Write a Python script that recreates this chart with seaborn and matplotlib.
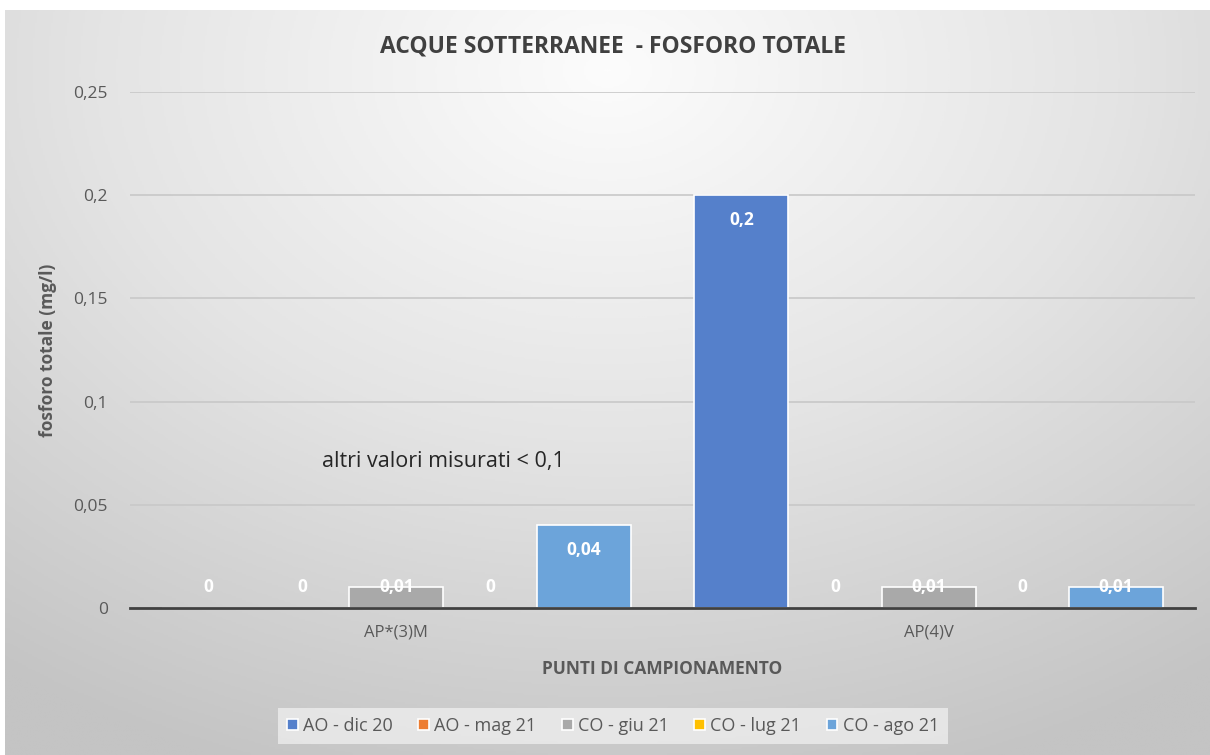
import numpy as np
import pandas as pd
import matplotlib
matplotlib.use('Agg')
import matplotlib.pyplot as plt
from matplotlib.colors import LinearSegmentedColormap
import seaborn as sns

# Dati
PUNTI = ['AP*(3)M', 'AP(4)V']
CAMPAGNE = ['AO - dic 20', 'AO - mag 21', 'CO - giu 21', 'CO - lug 21', 'CO - ago 21']
VAL_AP3M = [0, 0, 0.01, 0, 0.04]
VAL_AP4V = [0.2, 0, 0.01, 0, 0.01]
Y_TICKS = [0, 0.05, 0.1, 0.15, 0.2, 0.25]

COLORI = ['#5580CB', '#ED7D31', '#A9A9A9', '#FFC000', '#6CA4DA']
TXT = '#595959'
FONT = ['Open Sans', 'DejaVu Sans']


def virgola(v):
    s = f'{v:g}'
    return s.replace('.', ',')


rows = []
for punto, vals in zip(PUNTI, [VAL_AP3M, VAL_AP4V]):
    for camp, v in zip(CAMPAGNE, vals):
        rows.append({'punto': punto, 'campagna': camp, 'valore': v})
df = pd.DataFrame(rows)

sns.set_theme(style='white')
plt.rcParams['font.family'] = FONT

fig = plt.figure(figsize=(12.1, 7.55), dpi=100)
fig.patch.set_facecolor('white')

# --- sfondo con gradiente radiale (stile Excel) ---
bg = fig.add_axes([5 / 1210, 0, 1 - 5 / 1210, 1 - 10 / 755], zorder=-10)
yy, xx = np.mgrid[0:1:400j, 0:1:600j]
dist = np.sqrt(((xx - 0.5) * 1.0) ** 2 + ((yy - 0.08) * 0.85) ** 2)
cmap_bg = LinearSegmentedColormap.from_list('bg', ['#fcfcfc', '#e4e4e4', '#c4c4c4'])
bg.imshow(dist, cmap=cmap_bg, vmin=0, vmax=0.85, aspect='auto', extent=[0, 1, 1, 0])
bg.set_axis_off()

ax = fig.add_axes([130 / 1210, 1 - 608 / 755, 1065 / 1210, 516 / 755])
ax.patch.set_alpha(0)

sns.barplot(data=df, x='punto', y='valore', hue='campagna', order=PUNTI,
            hue_order=CAMPAGNE, palette=COLORI, saturation=1, width=0.88, ax=ax,
            edgecolor='white', linewidth=1.2, errorbar=None, legend=True, zorder=3)

ax.set_xlim(-0.5, 1.5)
ax.set_ylim(0, 0.25)
ax.set_yticks(Y_TICKS)
ax.set_yticklabels([virgola(t) for t in Y_TICKS], fontsize=12.5, color=TXT)
ax.tick_params(axis='x', labelsize=12, labelcolor=TXT, length=0, pad=12)
ax.tick_params(axis='y', length=0, pad=16)
ax.grid(axis='y', color='#c8c8c8', linewidth=1.2, zorder=0)
ax.set_axisbelow(True)
for side in ['top', 'right', 'left']:
    ax.spines[side].set_visible(False)
ax.spines['bottom'].set_color('#404040')
ax.spines['bottom'].set_linewidth(2)
ax.spines['bottom'].set_zorder(5)

ax.set_xlabel('PUNTI DI CAMPIONAMENTO', fontsize=12.5, fontweight='bold', color=TXT, labelpad=14)
ax.set_ylabel('fosforo totale (mg/l)', fontsize=12.5, fontweight='bold', color=TXT, labelpad=12)

# etichette dati (interno estremità, minimo sopra l'asse)
for cont in ax.containers:
    for bar in cont:
        v = bar.get_height()
        y = max(v - 0.012, 0.0102)
        ax.text(bar.get_x() + bar.get_width() / 2, y, virgola(round(v, 2)),
                ha='center', va='center', color='white', fontsize=12.5,
                fontweight='bold', zorder=6)

ax.text(-0.139, 0.071, 'altri valori misurati < 0,1', fontsize=15.5, color='#262626',
        va='center', ha='left')

fig.text(613 / 1210, 1 - 46 / 755, 'ACQUE SOTTERRANEE  - FOSFORO TOTALE', ha='center',
         va='center', fontsize=16.5, fontweight='bold', color='#404040')

leg = ax.legend(loc='center', bbox_to_anchor=(613 / 1210, 1 - 726 / 755),
                bbox_transform=fig.transFigure, ncol=5, frameon=True, fontsize=13,
                handlelength=0.6, handleheight=0.6, handletextpad=0.3, columnspacing=1.4,
                borderpad=0.5)
leg.get_frame().set_facecolor('#f2f2f2')
leg.get_frame().set_alpha(0.7)
leg.get_frame().set_edgecolor('none')
leg.get_frame().set_boxstyle('square', pad=0)
for t in leg.get_texts():
    t.set_color(TXT)

fig.savefig('out.png', dpi=100)
